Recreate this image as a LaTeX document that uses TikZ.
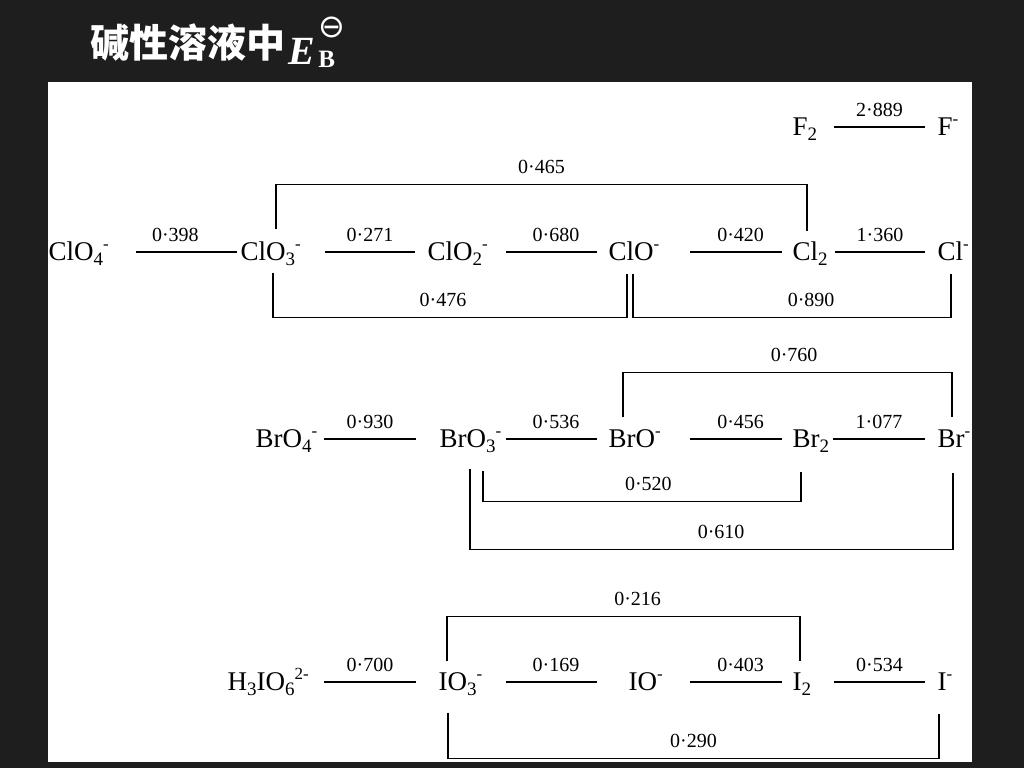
\documentclass[tikz,border=0pt]{standalone}
\usepackage{fontspec}
\setmainfont{Liberation Serif}
\newfontfamily\cjk{Noto Sans CJK SC}
\newfontfamily\signfont{DejaVu Sans}
\definecolor{slidebg}{RGB}{30,30,30}
\newcommand{\chsub}[1]{\raisebox{-5pt}{\fontsize{19}{19}\selectfont #1}}
\newcommand{\chsup}[1]{\raisebox{11pt}{\fontsize{17}{17}\selectfont #1}}
\tikzset{
  species/.style={anchor=base west,inner sep=0pt,text height=21pt,text depth=5pt,
    font=\fontsize{27}{27}\selectfont},
  value/.style={above=9pt,inner sep=1pt,font=\fontsize{20}{20}\selectfont},
  heading/.style={anchor=base west,inner sep=0pt,text=white},
}
\begin{document}
\begin{tikzpicture}
  [x=1pt,y=-1pt,line width=1.3pt]
  \fill[slidebg] (0,0) rectangle (1024,768);
  \fill[white] (48,82) rectangle (972,762);

  % title
  \node[heading,font=\cjk\bfseries\fontsize{39}{39}\selectfont] (title) at (90,58) {碱性溶液中};
  \node[heading,font=\bfseries\fontsize{40}{40}\selectfont] (evar) at (288,64)
    {\textit{E}\kern3pt\makebox[0pt][l]{\raisebox{27pt}{\signfont\mdseries\fontsize{32}{32}\selectfont ⊖}}%
     \raisebox{-3pt}{\fontsize{25}{25}\selectfont B}};

  % fluorine
  \node[species] (ftwo) at (792,135) {F\chsub{2}};
  \node[species] (fion) at (937,135) {F\chsup{-}};

  % chlorine
  \node[species] (clofour) at (48,260) {ClO\chsub{4}\chsup{-}};
  \node[species] (clothree) at (240,260) {ClO\chsub{3}\chsup{-}};
  \node[species] (clotwo) at (427,260) {ClO\chsub{2}\chsup{-}};
  \node[species] (clo) at (608,260) {ClO\chsup{-}};
  \node[species] (cltwo) at (792,260) {Cl\chsub{2}};
  \node[species] (clion) at (937,260) {Cl\chsup{-}};

  % bromine
  \node[species] (brofour) at (255,447) {BrO\chsub{4}\chsup{-}};
  \node[species] (brothree) at (439,447) {BrO\chsub{3}\chsup{-}};
  \node[species] (bro) at (608,447) {BrO\chsup{-}};
  \node[species] (brtwo) at (792,447) {Br\chsub{2}};
  \node[species] (brion) at (937,447) {Br\chsup{-}};

  % iodine
  \node[species] (hio) at (227,690) {H\chsub{3}IO\chsub{6}\chsup{2-}};
  \node[species] (iothree) at (438,690) {IO\chsub{3}\chsup{-}};
  \node[species] (io) at (628,690) {IO\chsup{-}};
  \node[species] (itwo) at (792,690) {I\chsub{2}};
  \node[species] (iion) at (937,690) {I\chsup{-}};

  \foreach \a/\b/\s/\g/\p/\v in {ftwo/fion/42/12/.5/2·889,
      clofour/clothree/88/3/.39/0·398, clothree/clotwo/85/12/.5/0·271,
      clotwo/clo/79/11/.55/0·680, clo/cltwo/82/10/.55/0·420, cltwo/clion/43/12/.5/1·360,
      brofour/brothree/69/23/.5/0·930, brothree/bro/67/11/.55/0·536,
      bro/brtwo/82/10/.55/0·456, brtwo/brion/41/12/.5/1·077,
      hio/iothree/97/22/.5/0·700, iothree/io/68/31/.55/0·169,
      io/itwo/62/10/.55/0·403, itwo/iion/42/12/.5/0·534}
    \draw ([xshift=\s pt]\a.west) -- node[value,pos=\p]{\v} ([xshift=-\g pt]\b.west);

  % skip steps
  \draw ([xshift=36pt,yshift=9pt]clothree.north west) -- ++(0,-45)
    -| node[value,pos=.25]{0·465} ([xshift=15pt,yshift=7pt]cltwo.north west);
  \draw ([xshift=33pt,yshift=-7pt]clothree.south west) -- ++(0,45)
    -| node[value,pos=.24]{0·476} ([xshift=19pt,yshift=-8pt]clo.south west);
  \draw ([xshift=25pt,yshift=-8pt]clo.south west) -- ++(0,44)
    -| node[value,pos=.28]{0·890} ([xshift=14pt,yshift=-8pt]clion.south west);

  \draw ([xshift=15pt,yshift=8pt]bro.north west) -- ++(0,-45)
    -| node[value,pos=.26]{0·760} ([xshift=15pt,yshift=8pt]brion.north west);
  \draw ([xshift=44pt,yshift=-18pt]brothree.south west) -- ++(0,31)
    -| node[value,pos=.26]{0·520} ([xshift=9pt,yshift=-19pt]brtwo.south west);
  \draw ([xshift=31pt,yshift=-16pt]brothree.south west) -- ++(0,81)
    -| node[value,pos=.26]{0·610} ([xshift=16pt,yshift=-20pt]brion.south west);

  \draw ([xshift=9pt,yshift=7pt]iothree.north west) -- ++(0,-45)
    -| node[value,pos=.27]{0·216} ([xshift=8pt,yshift=7pt]itwo.north west);
  \draw ([xshift=10pt,yshift=-17pt]iothree.south west) -- ++(0,46)
    -| node[value,pos=.25]{0·290} ([xshift=2pt,yshift=-18pt]iion.south west);
\end{tikzpicture}
\end{document}
